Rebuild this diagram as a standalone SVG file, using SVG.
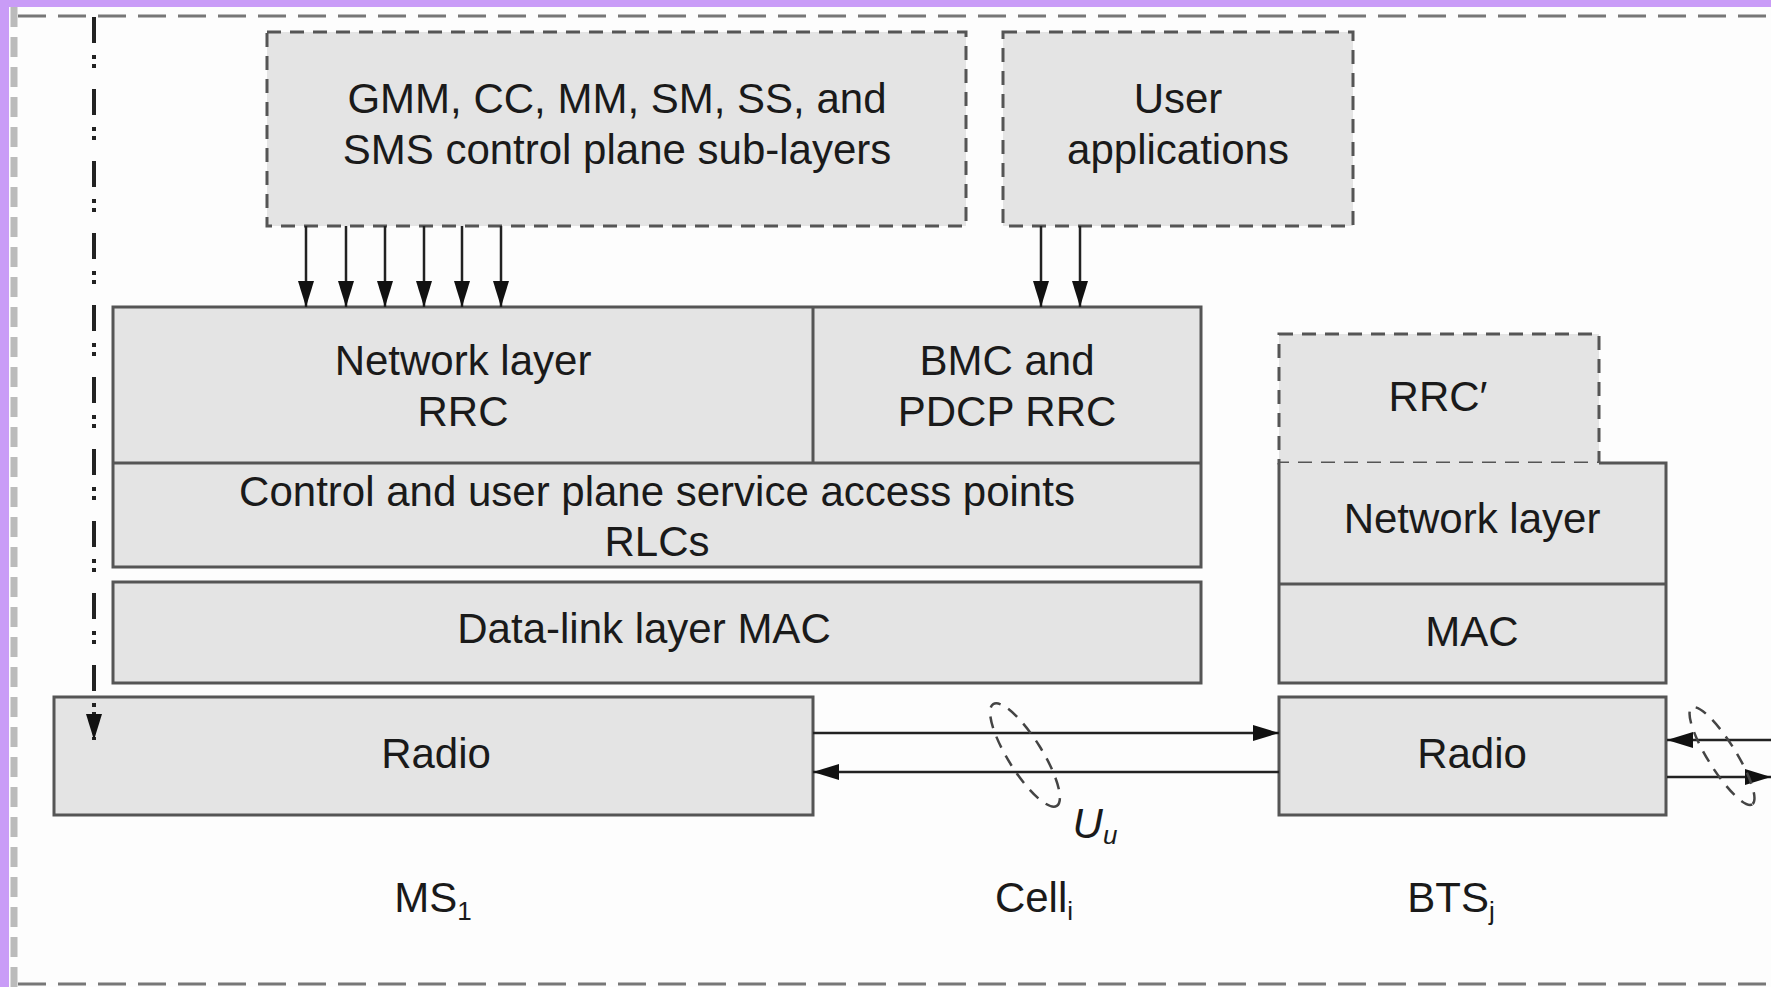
<svg xmlns="http://www.w3.org/2000/svg" width="1771" height="987" viewBox="0 0 1771 987">
<style>
.box{fill:#e4e4e4;stroke:#555;stroke-width:3}
.dbox{fill:#e4e4e4;stroke:#555;stroke-width:3;stroke-dasharray:14 9}
.ln{fill:none;stroke:#555;stroke-width:3}
.t{font-family:"Liberation Sans",Arial,Helvetica,sans-serif;font-size:42px;fill:#1a1a1a;text-anchor:middle}
.con{fill:none;stroke:#222;stroke-width:2.5}
.ell{fill:none;stroke:#444;stroke-width:2.5;stroke-dasharray:12 9}
</style>
<defs>
<marker id="ah" markerUnits="userSpaceOnUse" markerWidth="26" markerHeight="16" refX="26" refY="8" orient="auto">
<path d="M0,0 L26,8 L0,16 z" fill="#111"/>
</marker>
</defs>
<rect width="1771" height="987" fill="#fdfdfd"/>
<g id="frame">
<rect x="0" y="0" width="1771" height="7" fill="#c99cf7"/>
<rect x="0" y="0" width="9" height="987" fill="#c99cf7"/>
<line x1="14" y1="7" x2="14" y2="987" stroke="#bbb" stroke-width="7" stroke-dasharray="20 10"/>
<line x1="18" y1="16" x2="1771" y2="16" stroke="#777" stroke-width="3" stroke-dasharray="28 12"/>
<line x1="18" y1="984" x2="1771" y2="984" stroke="#777" stroke-width="3" stroke-dasharray="28 12"/>
</g>
<g id="gmm">
<rect class="dbox" x="267" y="32" width="699" height="194"/>
<text class="t" x="617" y="113">GMM, CC, MM, SM, SS, and</text>
<text class="t" x="617" y="164">SMS control plane sub-layers</text>
</g>
<g id="userapps">
<rect class="dbox" x="1003" y="32" width="350" height="194"/>
<text class="t" x="1178" y="113">User</text>
<text class="t" x="1178" y="164">applications</text>
</g>
<g id="ms-network">
<rect class="box" x="113" y="307" width="1088" height="260"/>
<line class="ln" x1="113" y1="463" x2="1201" y2="463"/>
<line class="ln" x1="813" y1="307" x2="813" y2="463"/>
<text class="t" x="463" y="375">Network layer</text>
<text class="t" x="463" y="426">RRC</text>
</g>
<g id="ms-bmc">
<text class="t" x="1007" y="375">BMC and</text>
<text class="t" x="1007" y="426">PDCP RRC</text>
</g>
<g id="ms-rlc">
<text class="t" x="657" y="506">Control and user plane service access points</text>
<text class="t" x="657" y="556">RLCs</text>
</g>
<g id="ms-mac">
<rect class="box" x="113" y="582" width="1088" height="101"/>
<text class="t" x="644" y="643">Data-link layer MAC</text>
</g>
<g id="ms-radio">
<rect class="box" x="54" y="697" width="759" height="118"/>
<text class="t" x="436" y="768">Radio</text>
</g>
<g id="bts-rrc">
<rect class="dbox" x="1279" y="334" width="320" height="129"/>
<text class="t" x="1438" y="411">RRC′</text>
</g>
<g id="bts-network">
<rect x="1279" y="463" width="387" height="220" fill="#e4e4e4"/>
<path class="ln" d="M1599,463 H1666 V683 H1279 V463"/>
<line class="ln" x1="1279" y1="584" x2="1666" y2="584"/>
<text class="t" x="1472" y="533">Network layer</text>
</g>
<g id="bts-mac">
<text class="t" x="1472" y="646">MAC</text>
</g>
<g id="bts-radio">
<rect class="box" x="1279" y="697" width="387" height="118"/>
<text class="t" x="1472" y="768">Radio</text>
</g>
<g id="labels">
<text class="t" x="433" y="912">MS<tspan font-size="26" dy="8">1</tspan></text>
<text class="t" x="1034" y="912">Cell<tspan font-size="26" dy="8">i</tspan></text>
<text class="t" x="1451" y="912">BTS<tspan font-size="26" dy="8">j</tspan></text>
<text class="t" x="1095" y="838" font-style="italic">U<tspan font-size="26" dy="6">u</tspan></text>
</g>
<g id="connectors">
<line class="con" x1="306" y1="226" x2="306" y2="307" marker-end="url(#ah)"/>
<line class="con" x1="346" y1="226" x2="346" y2="307" marker-end="url(#ah)"/>
<line class="con" x1="385" y1="226" x2="385" y2="307" marker-end="url(#ah)"/>
<line class="con" x1="424" y1="226" x2="424" y2="307" marker-end="url(#ah)"/>
<line class="con" x1="462" y1="226" x2="462" y2="307" marker-end="url(#ah)"/>
<line class="con" x1="501" y1="226" x2="501" y2="307" marker-end="url(#ah)"/>
<line class="con" x1="1041" y1="226" x2="1041" y2="307" marker-end="url(#ah)"/>
<line class="con" x1="1080" y1="226" x2="1080" y2="307" marker-end="url(#ah)"/>
<line x1="94" y1="17" x2="94" y2="740" stroke="#222" stroke-width="4" stroke-dasharray="26 12 4 5 4 21" marker-end="url(#ah)"/>
<line class="con" x1="813" y1="733" x2="1279" y2="733" marker-end="url(#ah)"/>
<line class="con" x1="1279" y1="772" x2="813" y2="772" marker-end="url(#ah)"/>
<line class="con" x1="1771" y1="740" x2="1667" y2="740" marker-end="url(#ah)"/>
<line class="con" x1="1667" y1="777" x2="1771" y2="777" marker-end="url(#ah)"/>
<ellipse class="ell" cx="1025" cy="755" rx="60" ry="17" transform="rotate(58 1025 755)"/>
<ellipse class="ell" cx="1722" cy="756" rx="57" ry="14" transform="rotate(58 1722 756)"/>
</g>
</svg>
